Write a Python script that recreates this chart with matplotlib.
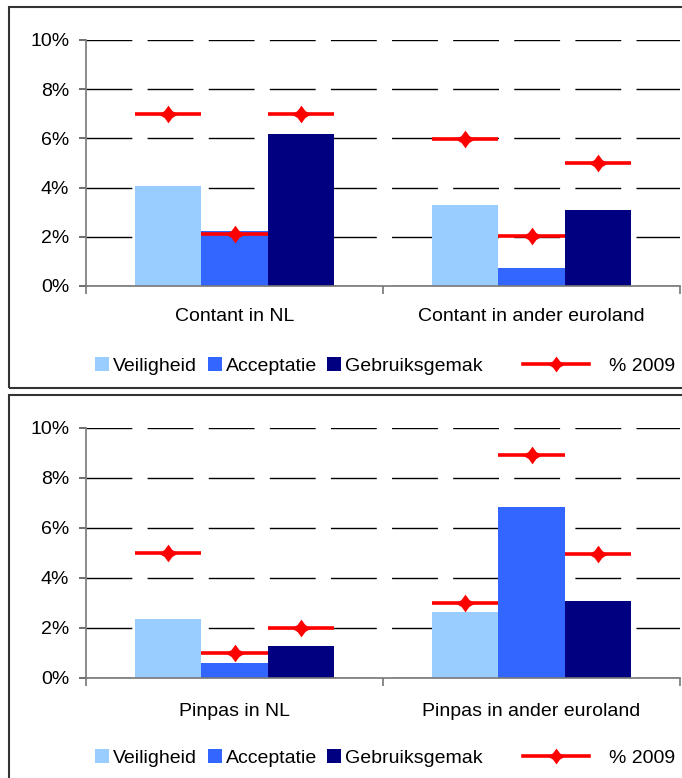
import matplotlib
matplotlib.use("Agg")
import matplotlib.pyplot as plt
import numpy as np
from matplotlib.path import Path
from matplotlib.patches import Rectangle, Patch
from matplotlib.lines import Line2D

plt.rcParams['font.family'] = ['Liberation Sans', 'DejaVu Sans']

series = ["Veiligheid", "Acceptatie", "Gebruiksgemak"]
line_label = "% 2009"

top_categories = ["Contant in NL", "Contant in ander euroland"]
top_veiligheid = [4.05, 3.28]
top_acceptatie = [2.25, 0.72]
top_gebruiksgemak = [6.17, 3.07]
top_2009 = [[7.0, 2.1, 7.0], [5.97, 2.02, 5.02]]

bottom_categories = ["Pinpas in NL", "Pinpas in ander euroland"]
bottom_veiligheid = [2.35, 2.65]
bottom_acceptatie = [0.6, 6.85]
bottom_gebruiksgemak = [1.27, 3.07]
bottom_2009 = [[5.02, 1.0, 2.0], [3.0, 8.93, 4.97]]

colors = ["#99CCFF", "#3366FF", "#000080"]
red = "#FF0000"

W, H = 682, 778
fig = plt.figure(figsize=(W / 100, H / 100), dpi=100)

k = 0.44
star = Path([(0, 1), (k, k * 0.9), (1.1, 0), (k, -k * 0.9), (0, -1),
             (-k, -k * 0.9), (-1.1, 0), (-k, k * 0.9), (0, 1)],
            [Path.MOVETO] + [Path.LINETO] * 7 + [Path.CLOSEPOLY])

FS = 14
MS = 14


def panel(y0, y10, cats, vals, v2009, box, legend_y, xpad):
    bx0, by0, bx1, by1 = box
    fig.patches.append(Rectangle((bx0 / W, 1 - by1 / H), (bx1 - bx0) / W, (by1 - by0) / H,
                                 transform=fig.transFigure, fill=False,
                                 edgecolor="#333333", lw=1.5, zorder=0))
    left, right = 86, 680
    ax = fig.add_axes([left / W, 1 - y0 / H, (right - left) / W, (y0 - y10) / H])
    x = np.arange(len(cats))
    bw = 0.2225
    for i, (s, v) in enumerate(zip(series, vals)):
        ax.bar(x + (i - 1) * bw, v, width=bw, color=colors[i], zorder=2, label=s)
    for ci in range(len(cats)):
        for i in range(3):
            cx = ci + (i - 1) * bw
            val = v2009[ci][i]
            ax.plot([cx - bw / 2, cx + bw / 2], [val, val], color=red, lw=2.6,
                    solid_capstyle="butt", zorder=3)
            ax.plot([cx], [val], marker=star, ms=MS, color=red, mew=0, zorder=4)
    ax.set_xlim(-0.5, len(cats) - 0.5)
    ax.set_ylim(0, 10)
    ax.set_yticks([0, 2, 4, 6, 8, 10])
    ax.set_yticklabels([f"{t}%" for t in [0, 2, 4, 6, 8, 10]], fontsize=FS)
    ax.yaxis.grid(True, color="black", lw=1, dashes=(33, 11), zorder=1)
    ax.set_axisbelow(True)
    ax.set_xticks(x)
    ax.set_xticklabels(cats, fontsize=FS)
    ax.set_xticks(np.arange(-0.5, len(cats)), minor=True)
    ax.tick_params(axis="x", which="major", length=0, pad=xpad)
    ax.tick_params(axis="x", which="minor", length=6, color="#777777", width=1.2, direction="out")
    ax.tick_params(axis="y", length=5, color="#555555", width=1.2, pad=7)
    for sp in ["top", "right"]:
        ax.spines[sp].set_visible(False)
    for sp in ["left", "bottom"]:
        ax.spines[sp].set_color("#777777")
        ax.spines[sp].set_linewidth(1.2)
    handles = [Patch(facecolor=c, edgecolor="none") for c in colors]
    fig.legend(handles, series, loc="center left",
               bbox_to_anchor=(95 / W, 1 - legend_y / H), ncol=3, frameon=False,
               fontsize=FS, handlelength=0.72, handleheight=0.67,
               handletextpad=0.2, columnspacing=0.55, borderaxespad=0, borderpad=0)
    lh = Line2D([0], [0], color=red, lw=2.6, marker=star, ms=MS * 0.9, mew=0)
    fig.legend([lh], [line_label], loc="center left",
               bbox_to_anchor=(523 / W, 1 - legend_y / H), frameon=False,
               fontsize=FS, handlelength=3.4, handletextpad=1.0, borderaxespad=0, borderpad=0)
    return ax


panel(286, 40, top_categories, [top_veiligheid, top_acceptatie, top_gebruiksgemak],
      top_2009, (9, 7, 700, 388), 366, 15.5)
panel(678, 428, bottom_categories, [bottom_veiligheid, bottom_acceptatie, bottom_gebruiksgemak],
      bottom_2009, (9, 395, 700, 800), 758, 18)

fig.savefig("out.png", dpi=100)
